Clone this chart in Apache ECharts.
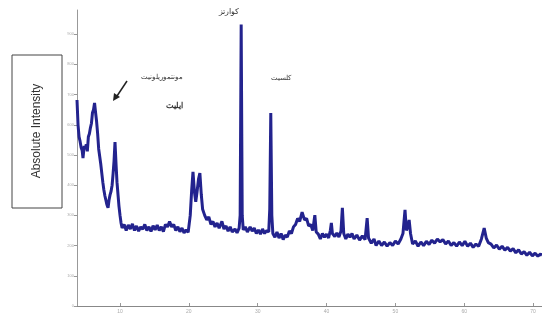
<!DOCTYPE html>
<html><head><meta charset="utf-8">
<script src="https://cdn.jsdelivr.net/npm/echarts@6/dist/echarts.min.js"></script>
<style>html,body{margin:0;padding:0;background:#fff}#c{width:542px;height:320px}</style>
</head><body><div id="c"></div>
<script>
const twoTheta = [3.75,3.9,4.05,4.2,4.35,4.5,4.62,4.8,4.95,5.1,5.25,5.4,5.55,5.7,5.85,6.0,6.15,6.3,6.45,6.6,6.75,6.9,7.05,7.2,7.35,7.5,7.65,7.8,7.95,8.1,8.26,8.4,8.55,8.7,8.85,9.0,9.13,9.27,9.42,9.56,9.71,9.85,10.0,10.15,10.3,
10.6,10.9,11.2,11.5,11.8,12.1,12.4,12.7,13.0,13.3,13.6,13.9,14.2,14.5,14.8,15.1,15.4,15.7,16.0,16.3,16.6,16.9,17.2,17.5,17.8,18.1,18.4,18.7,19.0,19.3,19.6,19.9,
20.2,20.4,20.6,20.8,21.0,21.2,21.4,21.6,21.8,22.0,22.3,22.6,22.9,23.2,23.5,23.8,24.1,24.4,24.8,25.1,25.4,25.7,26.0,26.3,26.7,27.0,27.3,27.45,27.6,27.75,27.9,
28.2,28.5,28.9,29.2,29.5,29.8,30.1,30.4,30.7,31.0,31.3,31.6,31.75,31.9,32.05,32.2,32.5,32.8,33.1,33.4,33.7,34.0,34.3,34.6,34.9,35.2,35.5,35.8,36.1,36.45,36.8,37.1,37.4,37.7,38.0,38.3,38.5,38.8,
39.1,39.4,39.7,40.0,40.3,40.55,40.7,40.85,41.2,41.5,41.8,42.1,42.3,42.5,42.8,43.1,43.4,43.7,44.0,44.4,44.8,45.2,45.6,45.9,46.1,46.5,46.9,47.2,47.6,48.0,48.4,48.8,49.2,49.6,50.0,50.4,50.8,51.1,51.4,51.6,51.8,52.0,52.2,
52.5,52.9,53.3,53.7,54.1,54.5,54.9,55.3,55.7,56.1,56.5,56.9,57.3,57.7,58.1,58.5,58.9,59.3,59.7,60.1,60.5,60.9,61.3,61.7,62.1,62.5,62.9,63.2,63.5,63.9,64.3,64.7,65.1,65.5,65.9,66.3,66.7,67.1,67.5,67.9,68.3,68.7,69.1,69.5,69.9,70.3,70.7,71.1,71.3];
const intensity = [682,600,560,545,525,515,490,530,520,535,512,560,570,590,605,640,650,672,640,610,570,520,495,470,440,410,385,365,350,335,325,350,368,380,400,440,480,543,470,410,368,330,300,275,258,
270,250,268,255,272,250,265,248,262,254,270,250,262,247,266,252,268,250,262,246,270,262,280,262,270,250,262,246,258,242,252,244,
300,380,444,380,345,380,420,440,370,320,300,285,295,270,280,262,275,258,280,255,265,248,262,245,255,242,258,300,932,300,252,
262,245,262,248,258,240,252,238,255,240,250,245,320,639,300,240,228,245,225,240,220,235,228,248,240,262,270,290,280,311,285,290,265,270,250,301,245,238,
222,240,228,238,225,250,275,240,230,242,228,248,325,240,222,238,228,240,222,235,218,232,220,291,225,208,222,200,215,200,212,198,210,200,215,205,222,240,318,250,262,285,240,
205,215,198,212,200,214,204,218,208,222,212,220,205,215,200,210,198,212,200,214,198,208,194,205,198,222,258,225,210,205,192,202,188,198,185,194,182,190,176,186,172,180,168,178,166,175,165,172,168];
const yTicks = [0,100,200,300,400,500,600,700,800,900];
const yTickLabels = ['0','100','200','300','400','500','600','700','800','900'];
const xTicks = [10,20,30,40,50,60,70];
const xTickLabels = ['10','20','30','40','50','60','70'];
const yTitle = 'Absolute Intensity';
const notes = ['کوارتز','مونتموریلونیت','ایلیت','کلسیت'];

const chart = echarts.init(document.getElementById('c'), null, {renderer:'canvas'});
chart.setOption({
  animation:false,
  backgroundColor:'#fff',
  grid:{left:77,right:0,top:10,bottom:14},
  xAxis:{type:'value',min:3.75,max:71.3,
    axisLine:{lineStyle:{color:'#888',width:1}},
    axisTick:{customValues:xTicks,length:3,inside:true,lineStyle:{color:'#999'}},
    axisLabel:{customValues:xTicks,formatter:v=>xTickLabels[xTicks.indexOf(v)]||'',fontSize:5,color:'#aaa',margin:3,fontFamily:'Liberation Sans'},
    splitLine:{show:false}},
  yAxis:{type:'value',min:0,max:980,
    axisLine:{show:true,lineStyle:{color:'#999',width:1}},
    axisTick:{customValues:yTicks,length:3,lineStyle:{color:'#999'}},
    axisLabel:{customValues:yTicks,formatter:v=>yTickLabels[yTicks.indexOf(v)]||'',fontSize:4,color:'#aaa',margin:3,fontFamily:'Liberation Sans'},
    splitLine:{show:false}},
  series:[{type:'line',data:twoTheta.map((t,i)=>[t,intensity[i]]),symbol:'none',
    lineStyle:{color:'#23238e',width:3},z:3}],
  graphic:[
    {type:'rect',shape:{x:12,y:55,width:50,height:153},style:{fill:'#fff',stroke:'#444',lineWidth:1}},
    {type:'text',x:37,y:131,rotation:Math.PI/2,style:{text:yTitle,fill:'#333',font:'12px "Liberation Sans Narrow","Liberation Sans"',align:'center',verticalAlign:'middle'}},
    {type:'text',x:229,y:12,style:{text:notes[0],fill:'#333',font:'8px "Noto Sans"',align:'center',verticalAlign:'middle'}},
    {type:'text',x:162,y:77,style:{text:notes[1],fill:'#333',font:'7px "Noto Sans"',align:'center',verticalAlign:'middle'}},
    {type:'text',x:174,y:106,style:{text:notes[2],fill:'#333',font:'bold 8px "Noto Sans"',align:'center',verticalAlign:'middle'}},
    {type:'text',x:281,y:78,style:{text:notes[3],fill:'#333',font:'7px "Noto Sans"',align:'center',verticalAlign:'middle'}},
    {type:'line',shape:{x1:127,y1:81,x2:117,y2:96},style:{stroke:'#222',lineWidth:1.5}},
    {type:'polygon',shape:{points:[[113,101],[114,93],[120,97]]},style:{fill:'#222'}}
  ]
});
</script></body></html>
